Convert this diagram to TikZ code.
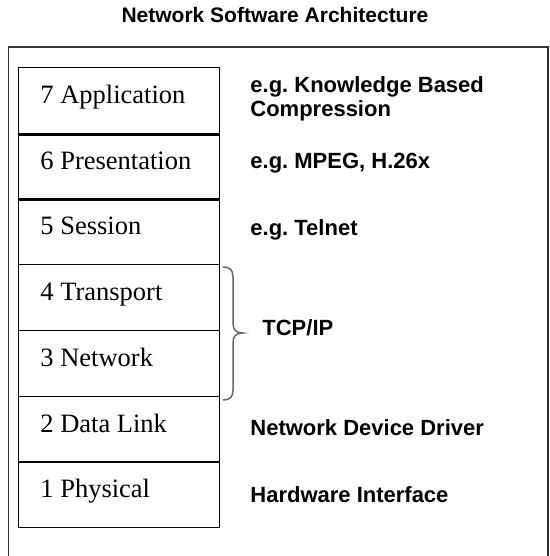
\documentclass[tikz,border=0pt]{standalone}
\usepackage{fontspec}
\setmainfont{Liberation Serif}
\newfontfamily\notefont{Liberation Sans}
\usetikzlibrary{positioning}

\begin{document}
\begin{tikzpicture}[x = 0.5pt, y = -0.5pt]

	% Definitions

	\def\H{65.7}

	\tikzset{
		layerbox/.style = {draw, line width = 0.65pt, minimum width = 100.5pt, minimum height = 32.85pt, anchor = north west, inner sep = 0},
		layertext/.style = {anchor = base west, inner sep = 0, font = \fontsize{13.25}{15}\selectfont},
		notetext/.style = {anchor = base west, inner sep = 0, align = left, font = \notefont\bfseries\fontsize{11}{12.5}\selectfont}
	}

	\useasboundingbox (0, 0) rectangle (550, 556);

	% Title + frame (open at the bottom)

	\node [anchor = base, inner sep = 0, font = \notefont\bfseries\fontsize{10.5}{12}\selectfont] (title) at (275, 23) {Network Software Architecture};

	\draw [line width = 0.75pt, black!80] (8.5, 560) -- (8.5, 47) -- (548, 47) -- (548, 560);

	% Layer stack

	\foreach \n/\name [count = \i from 0] in {7/Application, 6/Presentation, 5/Session, 4/Transport, 3/Network, 2/Data Link, 1/Physical}
	{
		\node [layerbox] (layer\n) at (18, 67 + \i * \H) {};
		\node [layertext] (name\n) at (40, 67 + \i * \H + 36.5) {\n\ \name};
	}

	\draw [line width = 1.5pt] (layer7.south west) -- (layer7.south east);
	\draw [line width = 1.5pt] (layer6.south west) -- (layer6.south east);

	% Brace round layers 4 + 3

	\draw [line width = 0.75pt, black!60] (223, 267) .. controls (230, 267) and (233, 270) .. (233, 277) -- (233, 323)
		.. controls (233, 330) and (236, 333) .. (243, 333)
		.. controls (236, 333) and (233, 336) .. (233, 343) -- (233, 390)
		.. controls (233, 397) and (230, 400) .. (223, 400);

	% Notes (base of a two-line note is its last line)

	\node [notetext] (note7) at (250, 117) {e.g.\ Knowledge Based\\Compression};
	\node [notetext] (note6) at (250, 168) {e.g.\ MPEG, H.26x};
	\node [notetext] (note5) at (250, 235) {e.g.\ Telnet};
	\node [notetext] (note43) at (262, 335) {TCP/IP};
	\node [notetext] (note2) at (250, 435) {Network Device Driver};
	\node [notetext] (note1) at (250, 502) {Hardware Interface};

\end{tikzpicture}
\end{document}
